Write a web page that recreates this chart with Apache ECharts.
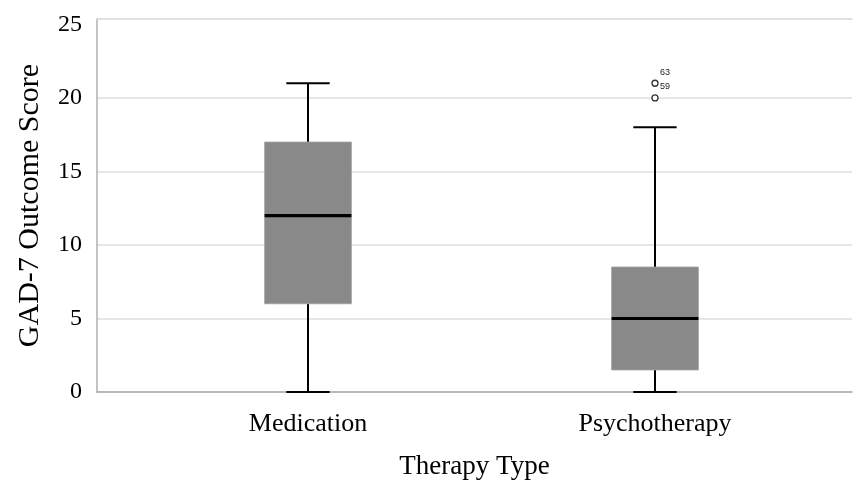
<!DOCTYPE html>
<html>
<head>
<meta charset="utf-8">
<script src="https://cdn.jsdelivr.net/npm/echarts@6/dist/echarts.min.js"></script>
<style>
html,body{margin:0;padding:0;background:#fff;}
#chart{width:857px;height:487px;}
</style>
</head>
<body>
<div id="chart"></div>
<script>
// ---- data ----
const categories = ['Medication', 'Psychotherapy'];
const boxMin    = [0, 0];
const boxQ1     = [6, 1.5];
const boxMedian = [12, 5];
const boxQ3     = [17, 8.5];
const boxMax    = [21, 18];
const outlierCategory = [1, 1];
const outlierValues = [21, 20];
const outlierIds = ['63', '59'];
const yTicks = [0, 5, 10, 15, 20, 25];
const yAxisTitle = 'GAD-7 Outcome Score';
const xAxisTitle = 'Therapy Type';

const boxData = categories.map((c, i) => [i, boxMin[i], boxQ1[i], boxMedian[i], boxQ3[i], boxMax[i]]);
const outlierData = outlierValues.map((v, i) => ({ value: [outlierCategory[i], v], id: outlierIds[i] }));

const Y_MAX = 25.37;
const serif = '"Liberation Serif", "Times New Roman", serif';

const chart = echarts.init(document.getElementById('chart'), null, { renderer: 'canvas' });

const option = {
  backgroundColor: '#ffffff',
  animation: false,
  grid: [
    { left: 97, right: 5, top: 19, bottom: 95 },
    { left: 134.5, right: 28.5, top: 19, bottom: 95 }
  ],
  xAxis: [
    {
      gridIndex: 0, type: 'value', min: 0, max: 1, position: 'bottom',
      axisLine: { show: true, lineStyle: { color: '#a8a8a8', width: 1.5 } },
      axisTick: { show: false }, axisLabel: { show: false }, splitLine: { show: false },
      name: xAxisTitle, nameLocation: 'middle', nameGap: 61,
      nameTextStyle: { fontFamily: serif, fontSize: 27, color: '#000' }
    },
    {
      gridIndex: 0, type: 'value', min: 0, max: 1, position: 'top',
      axisLine: { show: true, onZero: false, lineStyle: { color: '#dedede', width: 1.5 } },
      axisTick: { show: false }, axisLabel: { show: false }, splitLine: { show: false }
    },
    {
      gridIndex: 1, type: 'category', data: categories, boundaryGap: true,
      axisLine: { show: false }, axisTick: { show: false }, splitLine: { show: false },
      axisLabel: { fontFamily: serif, fontSize: 26, color: '#000', margin: 19 }
    }
  ],
  yAxis: [
    {
      gridIndex: 0, type: 'value', min: 0, max: Y_MAX, interval: 5,
      axisLine: { show: true, lineStyle: { color: '#b0b0b0', width: 1.5 } },
      axisTick: { show: false },
      axisLabel: {
        fontFamily: serif, fontSize: 24, color: '#000', margin: 15,
        formatter: v => (yTicks.indexOf(v) >= 0 ? String(v) : '')
      },
      splitLine: { show: true, lineStyle: { color: ['#dedede', '#dedede', '#dedede', '#dedede', '#dedede', 'rgba(0,0,0,0)', '#dedede'], width: 1.5 } },
      name: yAxisTitle, nameLocation: 'middle', nameGap: 52, nameRotate: 90,
      nameTextStyle: { fontFamily: serif, fontSize: 30, color: '#000' }
    },
    {
      gridIndex: 1, type: 'value', min: 0, max: Y_MAX,
      show: false
    }
  ],
  series: [
    {
      type: 'custom',
      xAxisIndex: 2, yAxisIndex: 1,
      data: boxData,
      encode: { x: 0, y: [1, 2, 3, 4, 5] },
      renderItem: function (params, api) {
        const xi = api.value(0);
        const band = api.size([1, 0])[0];
        const boxW = band * 0.25;
        const capW = band * 0.125;
        const pMin = api.coord([xi, api.value(1)]);
        const pQ1 = api.coord([xi, api.value(2)]);
        const pMed = api.coord([xi, api.value(3)]);
        const pQ3 = api.coord([xi, api.value(4)]);
        const pMax = api.coord([xi, api.value(5)]);
        const cx = pMin[0];
        const lineStyle = { stroke: '#000', lineWidth: 2, fill: null };
        return {
          type: 'group',
          children: [
            { type: 'line', shape: { x1: cx, y1: pMin[1], x2: cx, y2: pQ1[1] }, style: lineStyle },
            { type: 'line', shape: { x1: cx, y1: pQ3[1], x2: cx, y2: pMax[1] }, style: lineStyle },
            { type: 'line', shape: { x1: cx - capW / 2, y1: pMin[1], x2: cx + capW / 2, y2: pMin[1] }, style: lineStyle },
            { type: 'line', shape: { x1: cx - capW / 2, y1: pMax[1], x2: cx + capW / 2, y2: pMax[1] }, style: lineStyle },
            { type: 'rect', shape: { x: cx - boxW / 2, y: pQ3[1], width: boxW, height: pQ1[1] - pQ3[1] },
              style: { fill: '#898989', stroke: '#a0a0a0', lineWidth: 0.8 } },
            { type: 'line', shape: { x1: cx - boxW / 2, y1: pMed[1], x2: cx + boxW / 2, y2: pMed[1] },
              style: { stroke: '#000', lineWidth: 3.2 } }
          ]
        };
      },
      z: 5
    },
    {
      type: 'scatter',
      xAxisIndex: 2, yAxisIndex: 1,
      data: outlierData,
      symbol: 'circle',
      symbolSize: 6,
      itemStyle: { color: '#ffffff', borderColor: '#333333', borderWidth: 1.3, opacity: 1 },
      label: {
        show: true,
        formatter: p => p.data.id,
        position: 'inside',
        offset: [10, -11],
        fontFamily: '"Liberation Sans", Arial, sans-serif',
        fontSize: 9,
        color: '#222'
      },
      z: 6
    }
  ]
};
chart.setOption(option);
</script>
</body>
</html>
